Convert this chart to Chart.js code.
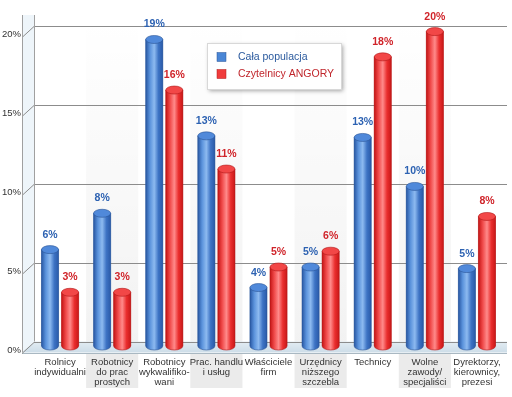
<!DOCTYPE html>
<html>
<head>
<meta charset="utf-8">
<script src="https://cdn.jsdelivr.net/npm/chart.js@4"></script>
<style>
body { margin: 0; background: #fff; }
</style>
</head>
<body>
<canvas id="myChart" width="512" height="397"></canvas>
<script>
// dane
const categories = [
    ["Rolnicy", "indywidualni"],
    ["Robotnicy", "do prac", "prostych"],
    ["Robotnicy", "wykwalifiko-", "wani"],
    ["Prac. handlu", "i usług"],
    ["Właściciele", "firm"],
    ["Urzędnicy", "niższego", "szczebla"],
    ["Technicy"],
    ["Wolne", "zawody/", "specjaliści"],
    ["Dyrektorzy,", "kierownicy,", "prezesi"],
];
const seriesNames = ["Cała populacja", "Czytelnicy ANGORY"];
const populacja = [6.1, 8.4, 19.4, 13.3, 3.7, 5.0, 13.2, 10.1, 4.9];
const angora = [3.4, 3.4, 16.2, 11.2, 5.0, 6.0, 18.3, 19.9, 8.2];
const yTicks = [0, 5, 10, 15, 20];

Chart.defaults.font.family = "'Liberation Sans', Arial, sans-serif";

const BACK = 4.5;   // tylna krawedz nad linia skali
const FRONT = 6.5;  // przednia krawedz pod linia skali
const WALL = 12;
const RY = 4;

const looks = [
    { stops: ["#2857a3", "#5b93dc", "#8dbaf0", "#3d73c4", "#2a5aa8"], top: "#5089da", edge: "#2a5496", text: "#2d62b2" },
    { stops: ["#c41414", "#f04a4a", "#ff8a8a", "#ea2e2e", "#c81818"], top: "#f24747", edge: "#b01818", text: "#d0242a" },
];

// ramka 3D: sciany, podloga, siatka
const frame3d = {
    id: "frame3d",
    beforeDraw(chart) {
        const ctx = chart.ctx;
        const a = chart.chartArea;
        const xs = chart.scales.x;
        const ys = chart.scales.y;
        const back = a.left;
        const front = a.left - WALL;
        const right = a.right + 4;
        const y0 = ys.getPixelForValue(0);
        ctx.save();
        ctx.fillStyle = "#fff";
        ctx.fillRect(0, 0, chart.width, chart.height);

        // pasy kategorii
        const w = xs.getPixelForValue(1) - xs.getPixelForValue(0);
        categories.forEach((c, i) => {
            if (i % 2 !== 1) return;
            const cx = xs.getPixelForValue(i);
            const g = ctx.createLinearGradient(0, a.top, 0, y0);
            g.addColorStop(0, "rgba(0,0,0,0.0)");
            g.addColorStop(1, "rgba(0,0,0,0.05)");
            ctx.fillStyle = g;
            ctx.fillRect(cx - w / 2, a.top + 8, w, y0 - a.top - 8);
            ctx.fillStyle = "#ebebeb";
            ctx.fillRect(cx - w / 2, y0 + FRONT + 1, w, chart.height - 9 - (y0 + FRONT + 1));
        });

        // lewa sciana
        ctx.fillStyle = "#eef5fa";
        ctx.beginPath();
        ctx.moveTo(front, a.top);
        ctx.lineTo(back, a.top);
        ctx.lineTo(back, y0 - BACK);
        ctx.lineTo(front, y0 + FRONT);
        ctx.closePath();
        ctx.fill();

        // podloga
        const fg = ctx.createLinearGradient(0, y0 - BACK, 0, y0 + FRONT);
        fg.addColorStop(0, "#e3edf3");
        fg.addColorStop(1, "#cddde8");
        ctx.fillStyle = fg;
        ctx.beginPath();
        ctx.moveTo(back, y0 - BACK);
        ctx.lineTo(right, y0 - BACK);
        ctx.lineTo(right, y0 + FRONT);
        ctx.lineTo(front, y0 + FRONT);
        ctx.closePath();
        ctx.fill();
        ctx.strokeStyle = "#a9b8c2";
        ctx.lineWidth = 1;
        ctx.beginPath();
        ctx.moveTo(front, Math.round(y0 + FRONT) + 0.5);
        ctx.lineTo(right, Math.round(y0 + FRONT) + 0.5);
        ctx.stroke();

        // linie siatki
        ctx.strokeStyle = "#8c8c8c";
        ctx.beginPath();
        yTicks.forEach((v) => {
            const yy = Math.round(ys.getPixelForValue(v) - BACK) + 0.5;
            ctx.moveTo(right, yy);
            ctx.lineTo(back, yy);
            ctx.lineTo(front, yy + BACK + FRONT);
        });
        ctx.stroke();

        ctx.strokeStyle = "#a0a0a0";
        ctx.beginPath();
        ctx.moveTo(front + 0.5, a.top);
        ctx.lineTo(front + 0.5, y0 + FRONT);
        ctx.moveTo(back + 0.5, a.top);
        ctx.lineTo(back + 0.5, y0 - BACK);
        ctx.stroke();
        ctx.restore();
    },
};

// walce + etykiety wartosci
const cylinders = {
    id: "cylinders",
    afterDatasetsDraw(chart) {
        const ctx = chart.ctx;
        ctx.save();
        chart.data.datasets.forEach((ds, di) => {
            const look = looks[di];
            chart.getDatasetMeta(di).data.forEach((bar, i) => {
                const p = bar.getProps(["x", "y", "base", "width"], true);
                const l = p.x - p.width / 2;
                const r = p.x + p.width / 2;
                const g = ctx.createLinearGradient(l, 0, r, 0);
                look.stops.forEach((s, k) => g.addColorStop(k / (look.stops.length - 1), s));
                ctx.fillStyle = g;
                ctx.beginPath();
                ctx.moveTo(l, p.y);
                ctx.lineTo(l, p.base);
                ctx.ellipse(p.x, p.base, p.width / 2, RY, 0, Math.PI, 0, true);
                ctx.lineTo(r, p.y);
                ctx.closePath();
                ctx.fill();
                ctx.strokeStyle = look.edge;
                ctx.lineWidth = 0.6;
                ctx.stroke();

                ctx.beginPath();
                ctx.ellipse(p.x, p.y, p.width / 2, RY, 0, 0, Math.PI * 2);
                ctx.fillStyle = look.top;
                ctx.fill();
                ctx.stroke();

                ctx.fillStyle = look.text;
                ctx.font = "bold 10.5px 'Liberation Sans', Arial, sans-serif";
                ctx.textAlign = "center";
                ctx.textBaseline = "alphabetic";
                ctx.fillText(Math.round(ds.data[i]) + "%", p.x, p.y - RY - 8);
            });
        });
        ctx.restore();
    },
};

// legenda w ramce
const legendBox = {
    id: "legendBox",
    afterDraw(chart) {
        const ctx = chart.ctx;
        const bx = 207, by = 43, bw = 134, bh = 46;
        ctx.save();
        ctx.shadowColor = "rgba(0,0,0,0.35)";
        ctx.shadowBlur = 4;
        ctx.shadowOffsetX = 2;
        ctx.shadowOffsetY = 2;
        ctx.fillStyle = "#fff";
        ctx.fillRect(bx, by, bw, bh);
        ctx.restore();
        ctx.save();
        ctx.strokeStyle = "#d8d8d8";
        ctx.strokeRect(bx + 0.5, by + 0.5, bw, bh);
        ctx.font = "10.5px 'Liberation Sans', Arial, sans-serif";
        ctx.textBaseline = "middle";
        chart.data.datasets.forEach((ds, di) => {
            const yy = by + 14 + di * 17;
            ctx.fillStyle = ds.backgroundColor;
            ctx.fillRect(bx + 10, yy - 4.5, 9, 9);
            ctx.strokeStyle = looks[di].edge;
            ctx.lineWidth = 0.5;
            ctx.strokeRect(bx + 10, yy - 4.5, 9, 9);
            ctx.fillStyle = di === 0 ? "#2b5a9e" : "#c0262c";
            ctx.fillText(ds.label, bx + 31, yy);
        });
        ctx.restore();
    },
};

const chartCtx = document.getElementById("myChart");
new Chart(chartCtx, {
    type: "bar",
    data: {
        labels: categories,
        datasets: [
            { label: seriesNames[0], data: populacja, backgroundColor: "#4a86d6", borderWidth: 0 },
            { label: seriesNames[1], data: angora, backgroundColor: "#f03c3c", borderWidth: 0 },
        ],
    },
    options: {
        responsive: false,
        animation: false,
        layout: { padding: { top: 15, right: 9, left: 0, bottom: 0 } },
        datasets: { bar: { categoryPercentage: 0.77, barPercentage: 0.85 } },
        plugins: { legend: { display: false }, tooltip: { enabled: false } },
        scales: {
            x: {
                grid: { display: false, drawTicks: false },
                border: { display: false },
                ticks: { color: "#333", font: { size: 9.5, lineHeight: 1.06 }, padding: 11, maxRotation: 0, autoSkip: false },
                afterFit: (s) => { s.height = 51; s.paddingLeft = 0; s.paddingRight = 0; },
            },
            y: {
                min: 0,
                max: 20.95,
                grid: { display: false, drawTicks: false },
                border: { display: false },
                afterBuildTicks: (s) => { s.ticks = yTicks.map((v) => ({ value: v })); },
                afterFit: (s) => { s.width = 34; s.paddingTop = 0; s.paddingBottom = 0; },
                ticks: { color: "#333", font: { size: 9.5 }, padding: 13, labelOffset: 4, callback: (v) => v + "%" },
            },
        },
    },
    plugins: [frame3d, cylinders, legendBox],
});
</script>
</body>
</html>
